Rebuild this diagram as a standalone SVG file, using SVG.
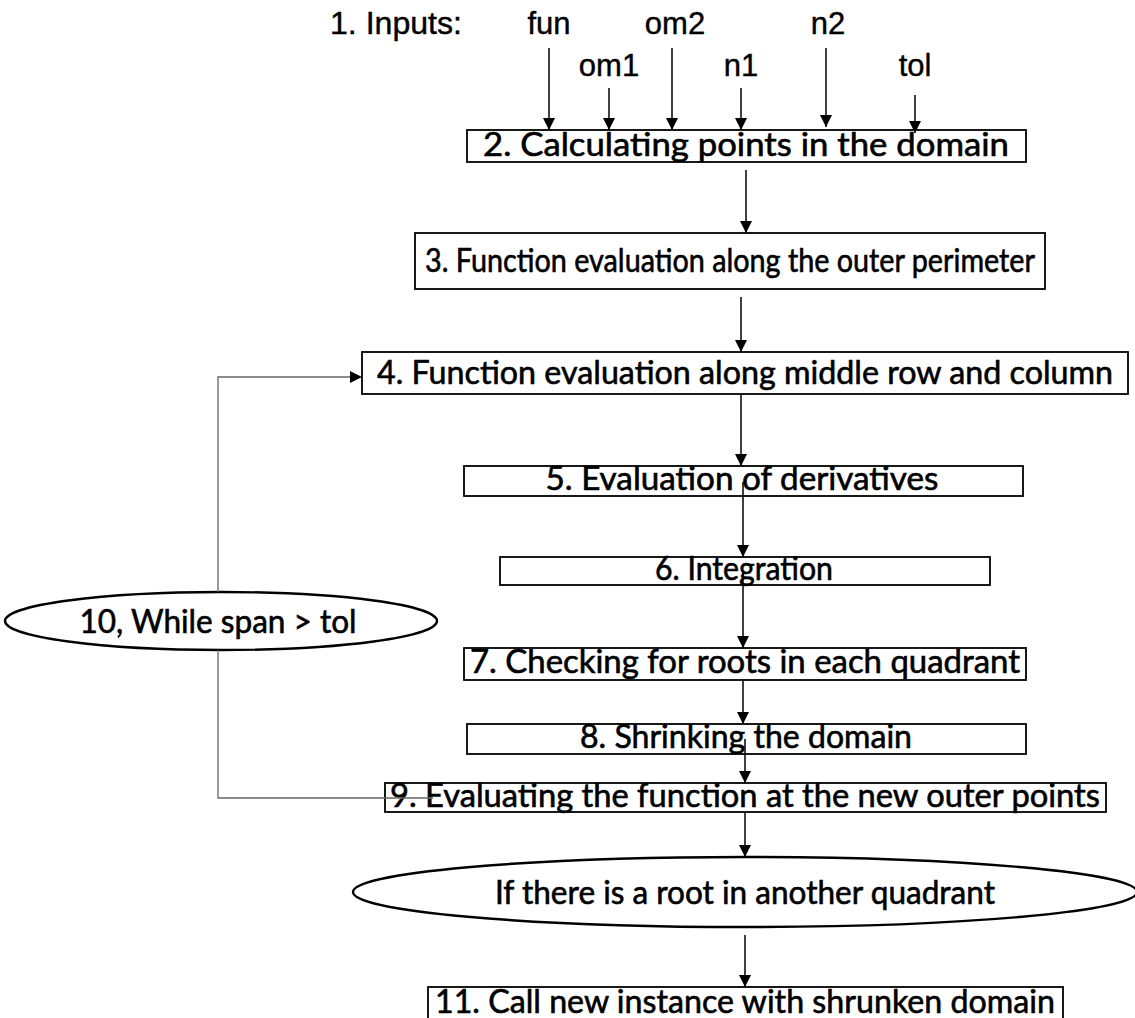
<svg xmlns="http://www.w3.org/2000/svg" width="1135" height="1018" viewBox="0 0 1135 1018">
  <style>
    .box { fill: #ffffff; stroke: #000000; stroke-width: 1.8; }
    .oval { fill: #ffffff; stroke: #000000; stroke-width: 2.4; }
    .lbl { font-family: Lato, "Open Sans", "Liberation Sans", sans-serif; font-size: 32px; fill: #000000; stroke: #000000; stroke-width: 0.6; text-anchor: middle; }
    .inp { font-family: "Liberation Sans", Arial, sans-serif; font-size: 31px; fill: #000000; stroke: #000000; stroke-width: 0.4; text-anchor: middle; }
    .arrow { stroke: #000000; stroke-width: 1.5; fill: none; marker-end: url(#head); }
    .loop { stroke: #666666; stroke-width: 1.3; fill: none; }
  </style>
  <defs>
    <marker id="head" viewBox="0 0 12 12" refX="12" refY="6" markerWidth="12" markerHeight="12" markerUnits="userSpaceOnUse" orient="auto">
      <path d="M0,0 L12,6 L0,12 Z" fill="#000000"/>
    </marker>
  </defs>

  <!-- input labels -->
  <g id="inputs">
    <text x="330" y="34" class="inp" style="text-anchor:start" textLength="132" lengthAdjust="spacingAndGlyphs">1. Inputs:</text>
    <text x="549" y="34" class="inp">fun</text>
    <text x="675" y="34" class="inp">om2</text>
    <text x="828" y="34" class="inp">n2</text>
    <text x="609" y="76" class="inp">om1</text>
    <text x="741" y="76" class="inp">n1</text>
    <text x="915" y="76" class="inp">tol</text>
  </g>

  <g id="n2">
    <rect x="467" y="130" width="559" height="32" class="box"/>
    <text x="746" y="156" class="lbl" textLength="526" lengthAdjust="spacingAndGlyphs">2. Calculating points in the domain</text>
  </g>
  <g id="n3">
    <rect x="415" y="233" width="630" height="56" class="box"/>
    <text x="730" y="272" class="lbl" textLength="610" lengthAdjust="spacingAndGlyphs">3. Function evaluation along the outer perimeter</text>
  </g>
  <g id="n4">
    <rect x="362" y="352" width="766" height="42" class="box"/>
    <text x="745" y="384" class="lbl" textLength="736" lengthAdjust="spacingAndGlyphs">4. Function evaluation along middle row and column</text>
  </g>
  <g id="n5">
    <rect x="464" y="466" width="559" height="30" class="box"/>
    <text x="742" y="490" class="lbl" textLength="393" lengthAdjust="spacingAndGlyphs">5. Evaluation of derivatives</text>
  </g>
  <g id="n6">
    <rect x="500" y="557" width="490" height="28" class="box"/>
    <text x="744" y="580" class="lbl" textLength="178" lengthAdjust="spacingAndGlyphs">6. Integration</text>
  </g>
  <g id="n7">
    <rect x="464" y="648" width="562" height="32" class="box"/>
    <text x="745" y="673" class="lbl" textLength="550" lengthAdjust="spacingAndGlyphs">7. Checking for roots in each quadrant</text>
  </g>
  <g id="n8">
    <rect x="467" y="724" width="559" height="30" class="box"/>
    <text x="746" y="748" class="lbl" textLength="332" lengthAdjust="spacingAndGlyphs">8. Shrinking the domain</text>
  </g>
  <g id="n9">
    <rect x="385" y="783" width="721" height="29" class="box"/>
    <text x="745" y="807" class="lbl" textLength="710" lengthAdjust="spacingAndGlyphs">9. Evaluating the function at the new outer points</text>
  </g>
  <g id="n10">
    <ellipse cx="221" cy="621" rx="216" ry="29" class="oval"/>
    <text x="218" y="633" class="lbl" textLength="277" lengthAdjust="spacingAndGlyphs">10, While span &gt; tol</text>
  </g>
  <g id="decision">
    <ellipse cx="745" cy="892" rx="392" ry="35" class="oval"/>
    <text x="745" y="904" class="lbl" textLength="500" lengthAdjust="spacingAndGlyphs">If there is a root in another quadrant</text>
  </g>
  <g id="n11">
    <rect x="428" y="987" width="635" height="36" class="box"/>
    <text x="745" y="1013" class="lbl" textLength="620" lengthAdjust="spacingAndGlyphs">11. Call new instance with shrunken domain</text>
  </g>

  <!-- connectors, drawn over the nodes -->
  <g id="connectors">
    <line x1="549" y1="48" x2="549" y2="130" class="arrow"/>
    <line x1="609" y1="88" x2="609" y2="130" class="arrow"/>
    <line x1="672" y1="48" x2="672" y2="130" class="arrow"/>
    <line x1="741" y1="88" x2="741" y2="130" class="arrow"/>
    <line x1="826" y1="48" x2="826" y2="127" class="arrow"/>
    <line x1="915" y1="95" x2="915" y2="133" class="arrow"/>
    <line x1="746" y1="170" x2="746" y2="233" class="arrow"/>
    <line x1="741" y1="297" x2="741" y2="352" class="arrow"/>
    <line x1="741" y1="394" x2="741" y2="466" class="arrow"/>
    <line x1="743" y1="482" x2="743" y2="557" class="arrow"/>
    <line x1="743" y1="572" x2="743" y2="648" class="arrow"/>
    <line x1="743" y1="680" x2="743" y2="724" class="arrow"/>
    <line x1="745" y1="739" x2="745" y2="783" class="arrow"/>
    <line x1="745" y1="812" x2="745" y2="857" class="arrow"/>
    <line x1="745" y1="935" x2="745" y2="987" class="arrow"/>
    <!-- loop back from step 9 through step 10 to step 4 -->
    <polyline points="433,798 218,798 218,650" class="loop"/>
    <polyline points="218,592 218,377 352,377" class="loop"/>
    <path d="M350,371 L362,377 L350,383 Z" fill="#000000"/>
  </g>
</svg>
